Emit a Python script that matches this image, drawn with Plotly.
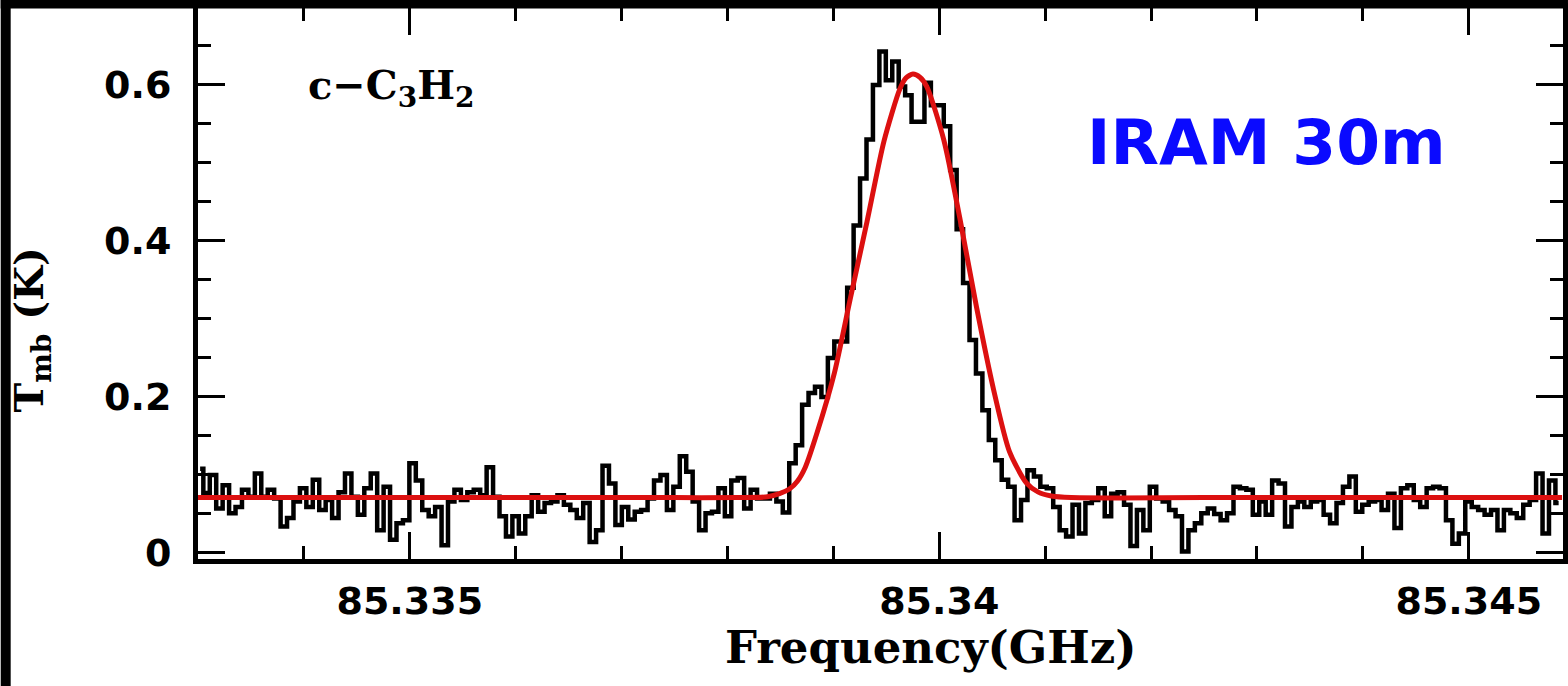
import numpy as np
import plotly.graph_objects as go

# ---------------- data ----------------
CHAN_START = 85.33302      # GHz, first channel centre
CHAN_WIDTH = 0.0000608     # GHz per channel

tmb_seg_a = [0.108, 0.077, 0.100, 0.057, 0.087, 0.051, 0.059, 0.081, 0.072, 0.102,
             0.072, 0.081, 0.070, 0.034, 0.045, 0.066, 0.083, 0.059, 0.094, 0.055,
             0.068, 0.045, 0.078, 0.102, 0.072, 0.049, 0.083, 0.102, 0.029, 0.085,
             0.017, 0.038, 0.042, 0.115, 0.093, 0.055, 0.047, 0.059, 0.010, 0.066,
             0.081, 0.068, 0.078, 0.081, 0.074, 0.110, 0.072, 0.047, 0.021, 0.047,
             0.025, 0.047, 0.074, 0.053, 0.064]
tmb_seg_b = [0.066, 0.074, 0.062, 0.055, 0.045, 0.064, 0.014, 0.029, 0.112, 0.089,
             0.036, 0.059, 0.043, 0.053, 0.055, 0.070, 0.093, 0.100, 0.055, 0.085,
             0.124, 0.104, 0.066, 0.029, 0.051, 0.053, 0.083, 0.047, 0.093, 0.096,
             0.057, 0.081, 0.070, 0.070, 0.076, 0.066, 0.052]
tmb_seg_c = [0.115, 0.138, 0.190, 0.205, 0.213, 0.200, 0.250, 0.271, 0.271, 0.340,
             0.420, 0.480, 0.530, 0.600, 0.643, 0.606, 0.630, 0.598, 0.587, 0.553,
             0.553, 0.603, 0.574, 0.574, 0.547, 0.491, 0.415, 0.346, 0.273, 0.230,
             0.183, 0.145, 0.119, 0.094, 0.085, 0.042, 0.068, 0.106, 0.098]
tmb_seg_d = [0.085, 0.083, 0.059, 0.029, 0.021, 0.062, 0.025, 0.064, 0.068, 0.083,
             0.047, 0.076, 0.078, 0.062, 0.009, 0.055, 0.029, 0.085, 0.070, 0.066,
             0.055, 0.047, 0.002, 0.029, 0.038, 0.051, 0.057, 0.050, 0.042, 0.051,
             0.085, 0.083, 0.081, 0.049, 0.066, 0.049, 0.093, 0.089, 0.034, 0.059,
             0.066]
tmb_seg_e = [0.059, 0.066, 0.068, 0.049, 0.038, 0.064, 0.085, 0.098, 0.053, 0.062,
             0.066, 0.068, 0.055, 0.076, 0.032, 0.083, 0.087, 0.068, 0.059, 0.083,
             0.085, 0.083, 0.042, 0.012, 0.025, 0.066, 0.059, 0.055, 0.049, 0.055,
             0.029, 0.055, 0.051, 0.045, 0.062, 0.068, 0.102, 0.025, 0.093, 0.064]

# Gaussian fit curve
fit_freq = [85.333000, 85.335500, 85.337500, 85.338096, 85.338378, 85.338491,
            85.338585, 85.338660, 85.338735, 85.338848, 85.339008, 85.339158,
            85.339318, 85.339478, 85.339628, 85.339685, 85.339751, 85.339817,
            85.339882, 85.340042, 85.340193, 85.340352, 85.340512, 85.340663,
            85.340822, 85.340935, 85.341058, 85.341246, 85.342500, 85.344500,
            85.345881]
fit_tmb = [0.071, 0.071, 0.071, 0.071, 0.072, 0.076,
           0.082, 0.092, 0.110, 0.155, 0.230, 0.325,
           0.425, 0.528, 0.595, 0.609, 0.614, 0.610,
           0.598, 0.530, 0.430, 0.315, 0.210, 0.130,
           0.090, 0.078, 0.073, 0.071, 0.071, 0.071,
           0.071]

x_tick_vals = [85.335, 85.34, 85.345]
x_tick_text = ["85.335", "85.34", "85.345"]
y_tick_vals = [0, 0.2, 0.4, 0.6]
y_tick_text = ["0", "0.2", "0.4", "0.6"]

X_RANGE = [85.333, 85.34589]
Y_RANGE = [-0.0077, 0.6987]

# ---------------- figure ----------------
tmb = tmb_seg_a + tmb_seg_b + tmb_seg_c + tmb_seg_d + tmb_seg_e
freq = CHAN_START + CHAN_WIDTH * np.arange(len(tmb))

W, H = 1568, 686
ML, MR, MT, MB = 198, 0, 8, 127
PW, PH = W - ML - MR, H - MT - MB

def px_x(p):
    return (p - ML) / PW

def px_y(p):
    return (H - MB - p) / PH

fig = go.Figure()
fig.add_trace(go.Scatter(x=freq, y=tmb, mode="lines",
                         line=dict(color="black", width=4.5, shape="hvh"),
                         hoverinfo="skip"))
fig.add_trace(go.Scatter(x=fit_freq, y=fit_tmb, mode="lines",
                         line=dict(color="#DC1010", width=5, shape="spline", smoothing=0.7),
                         hoverinfo="skip"))

tickfont = dict(family="DejaVu Sans", size=38, color="black", weight="bold")

fig.update_xaxes(range=X_RANGE, showgrid=False, zeroline=False,
                 showline=True, linewidth=5, linecolor="black", mirror="allticks",
                 ticks="inside", ticklen=27, tickwidth=3, tickcolor="black",
                 tickmode="array", tickvals=x_tick_vals, ticktext=x_tick_text,
                 tickfont=tickfont, ticklabelstandoff=4,
                 minor=dict(ticks="inside", ticklen=13, tickwidth=3, tickcolor="black",
                            tick0=85.333, dtick=0.001, showgrid=False))
fig.update_yaxes(range=Y_RANGE, showgrid=False, zeroline=False,
                 showline=True, linewidth=5, linecolor="black", mirror="allticks",
                 ticks="inside", ticklen=27, tickwidth=3, tickcolor="black",
                 tickmode="array", tickvals=y_tick_vals, ticktext=y_tick_text,
                 tickfont=tickfont, ticklabelstandoff=14,
                 minor=dict(ticks="inside", ticklen=13, tickwidth=3, tickcolor="black",
                            tick0=0, dtick=0.05, showgrid=False))

fig.update_layout(width=W, height=H, margin=dict(l=ML, r=MR, t=MT, b=MB),
                  paper_bgcolor="white", plot_bgcolor="white", showlegend=False)

# black border strips of the original image
fig.add_shape(type="rect", xref="paper", yref="paper",
              x0=px_x(0), x1=px_x(10), y0=px_y(H + 5), y1=px_y(-5),
              fillcolor="black", line=dict(width=0), layer="above")
fig.add_shape(type="rect", xref="paper", yref="paper",
              x0=px_x(0), x1=px_x(W + 5), y0=px_y(8.5), y1=px_y(-5),
              fillcolor="black", line=dict(width=0), layer="above")

serif = "DejaVu Serif"
fig.add_annotation(xref="paper", yref="paper", x=px_x(934), y=px_y(647),
                   text="Frequency(GHz)", showarrow=False,
                   xanchor="center", yanchor="middle",
                   font=dict(family=serif, size=45, color="black", weight="bold"))
fig.add_annotation(xref="paper", yref="paper", x=px_x(31), y=px_y(330),
                   text="T<sub>mb</sub> (K)", showarrow=False, textangle=-90,
                   xanchor="center", yanchor="middle",
                   font=dict(family=serif, size=40, color="black", weight="bold"))
fig.add_annotation(xref="paper", yref="paper", x=px_x(306), y=px_y(88),
                   text="c\u2212C<sub>3</sub>H<sub>2</sub>", showarrow=False,
                   xanchor="left", yanchor="middle",
                   font=dict(family=serif, size=40, color="black", weight="bold"))
fig.add_annotation(xref="paper", yref="paper", x=px_x(1270), y=px_y(142),
                   text="IRAM 30m", showarrow=False,
                   xanchor="center", yanchor="middle",
                   font=dict(family="DejaVu Sans", size=63, color="#0A0AFF", weight="bold"))

fig.write_html("out.html")
